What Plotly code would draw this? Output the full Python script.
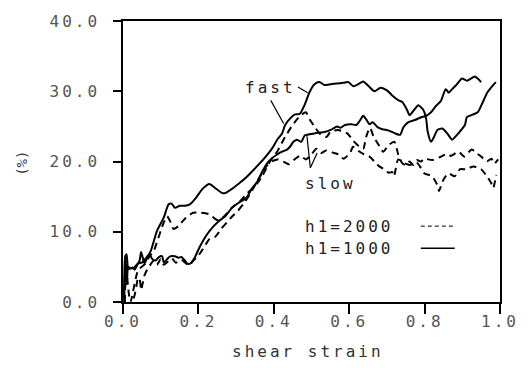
import plotly.graph_objects as go

# fast, h1=1000 (upper solid)
fast_1000_x = [0.003, 0.006, 0.0095, 0.014, 0.02, 0.026, 0.031, 0.038, 0.044, 0.048, 0.057, 0.064, 0.074,
               0.090, 0.108, 0.121, 0.129, 0.138, 0.151, 0.164, 0.177, 0.193, 0.211, 0.229, 0.245, 0.263,
               0.271, 0.289, 0.306, 0.322, 0.348, 0.374, 0.396, 0.409, 0.422, 0.430, 0.443, 0.456, 0.469,
               0.482, 0.495, 0.508, 0.521, 0.534, 0.551, 0.567, 0.585, 0.598, 0.611, 0.624, 0.637, 0.654,
               0.667, 0.683, 0.701, 0.714, 0.731, 0.740, 0.753, 0.760, 0.773, 0.783, 0.796, 0.804, 0.808,
               0.817, 0.825, 0.834, 0.847, 0.860, 0.873, 0.881, 0.894, 0.907, 0.912, 0.924, 0.941, 0.954,
               0.966, 0.979, 0.989]
fast_1000_y = [0.0, 6.5, 6.8, 4.7, 4.8, 4.9, 4.6, 5.3, 5.9, 7.1, 5.5, 6.3, 7.3,
               10.1, 12.0, 13.9, 14.0, 13.4, 13.7, 13.7, 13.9, 14.8, 16.1, 16.8, 16.2, 15.5,
               15.5, 16.1, 16.8, 17.5, 18.9, 20.4, 21.9, 23.1, 24.0, 25.2, 26.1, 26.7, 26.8,
               28.1, 29.9, 31.0, 31.3, 30.9, 31.0, 31.1, 31.2, 31.3, 30.7, 31.0, 31.4, 30.6,
               30.0, 30.5, 30.1, 29.4, 28.7, 28.5, 27.4, 26.6, 27.4, 28.0, 27.4, 26.1, 24.3,
               22.8, 23.5, 24.5, 24.7, 24.0, 23.1, 23.5, 24.3, 25.2, 26.3, 26.6, 27.0, 28.4,
               29.8, 30.7, 31.3]

# slow, h1=1000 (lower solid)
slow_1000_x = [0.003, 0.006, 0.010, 0.014, 0.020, 0.030, 0.040, 0.050, 0.060, 0.070, 0.078, 0.087, 0.095,
               0.104, 0.108, 0.117, 0.125, 0.138, 0.147, 0.155, 0.164, 0.173, 0.181, 0.190, 0.203, 0.220,
               0.237, 0.254, 0.271, 0.289, 0.306, 0.327, 0.340, 0.357, 0.370, 0.383, 0.396, 0.409, 0.422,
               0.435, 0.443, 0.452, 0.461, 0.473, 0.482, 0.508, 0.534, 0.551, 0.568, 0.577, 0.589, 0.606,
               0.619, 0.628, 0.637, 0.645, 0.654, 0.662, 0.675, 0.688, 0.705, 0.722, 0.735, 0.744, 0.757,
               0.774, 0.791, 0.804, 0.817, 0.830, 0.843, 0.856, 0.864, 0.873, 0.886, 0.899, 0.912, 0.920,
               0.933, 0.941, 0.950]
slow_1000_y = [0.5, 5.5, 2.5, 5.0, 4.8, 4.9, 5.5, 5.6, 6.2, 6.8, 6.1, 5.9, 6.4,
               6.5, 5.6, 6.1, 6.5, 6.5, 6.3, 6.4, 5.9, 5.4, 5.6, 6.3, 7.8, 9.4,
               10.6, 11.5, 12.2, 13.4, 14.1, 14.8, 16.0, 17.2, 18.6, 19.8, 20.5, 21.0, 21.4,
               21.7, 22.1, 22.8, 23.1, 22.8, 23.7, 24.0, 24.2, 24.5, 25.0, 24.8, 25.2, 25.3,
               25.2, 25.8, 26.5, 26.0, 25.3, 25.6, 24.9, 24.6, 24.4, 24.0, 23.8, 24.9, 25.6,
               25.9, 26.3, 26.5, 27.0, 27.9, 28.6, 30.3, 29.8, 30.3, 31.0, 31.8, 31.5, 31.7,
               32.1, 31.8, 31.3]

# fast, h1=2000 (upper dashed)
fast_2000_x = [0.005, 0.008, 0.012, 0.016, 0.020, 0.040, 0.060, 0.070, 0.082, 0.091, 0.100, 0.108, 0.117,
               0.125, 0.134, 0.147, 0.155, 0.167, 0.186, 0.206, 0.229, 0.245, 0.255, 0.270, 0.290, 0.310,
               0.330, 0.355, 0.370, 0.390, 0.410, 0.430, 0.450, 0.470, 0.485, 0.495, 0.510, 0.525, 0.540,
               0.550, 0.570, 0.595, 0.610, 0.625, 0.637, 0.645, 0.655, 0.665, 0.680, 0.690, 0.706, 0.720,
               0.730, 0.740, 0.750, 0.760, 0.770, 0.780, 0.790, 0.800, 0.820, 0.840, 0.860, 0.870, 0.890,
               0.905, 0.925, 0.940, 0.950, 0.965, 0.977, 0.985, 0.995]
fast_2000_y = [0.0, 6.0, 3.0, 1.0, 0.0, 4.5, 5.5, 6.5, 7.3, 8.7, 10.1, 11.3, 12.2,
               11.5, 10.4, 10.8, 11.3, 12.0, 12.7, 12.7, 12.5, 11.8, 11.6, 12.3, 13.5, 14.3,
               15.5, 16.8, 18.0, 20.0, 21.5, 23.5, 25.2, 26.5, 27.0, 26.0, 24.8, 23.8, 23.5,
               24.2, 24.5, 24.0, 23.0, 22.2, 21.8, 23.5, 24.8, 23.5, 22.2, 21.4, 22.4, 22.8,
               21.0, 19.8, 19.5, 20.0, 19.5, 20.2, 20.0, 20.4, 20.2, 20.6, 21.1, 20.8, 21.4,
               20.7, 21.7, 21.1, 20.7, 20.0, 20.4, 19.7, 20.3]

# slow, h1=2000 (lower dashed)
slow_2000_x = [0.028, 0.031, 0.035, 0.040, 0.044, 0.048, 0.052, 0.057, 0.065, 0.075, 0.082, 0.090, 0.100,
               0.108, 0.120, 0.130, 0.140, 0.155, 0.165, 0.175, 0.185, 0.200, 0.215, 0.230, 0.245, 0.260,
               0.275, 0.290, 0.305, 0.320, 0.335, 0.350, 0.365, 0.380, 0.395, 0.410, 0.425, 0.440, 0.455,
               0.470, 0.485, 0.500, 0.513, 0.525, 0.540, 0.555, 0.572, 0.585, 0.603, 0.610, 0.625, 0.640,
               0.654, 0.667, 0.680, 0.693, 0.705, 0.714, 0.719, 0.730, 0.745, 0.760, 0.780, 0.800, 0.820,
               0.835, 0.838, 0.850, 0.863, 0.880, 0.894, 0.910, 0.930, 0.950, 0.965, 0.977, 0.982, 0.990]
slow_2000_y = [0.5, 1.0, 2.1, 3.4, 3.3, 1.7, 2.6, 3.8, 4.7, 5.5, 5.9, 5.3, 6.1,
               5.3, 5.8, 6.2, 5.6, 6.0, 5.6, 5.2, 5.8, 6.6, 7.8, 9.0, 9.3, 10.4,
               11.3, 12.2, 13.0, 14.0, 15.2, 16.6, 18.0, 19.3, 20.0, 20.3, 20.0, 19.6, 20.3,
               20.8, 20.3, 21.0, 21.8, 21.2, 21.6, 21.3, 21.0, 20.4, 21.3, 22.1, 21.5, 21.0,
               20.7, 20.0, 19.3, 18.9, 18.4, 18.5, 17.9, 20.3, 19.8, 19.5, 19.8, 18.3, 17.9,
               16.5, 15.8, 17.4, 18.3, 17.9, 18.9, 18.9, 19.3, 18.9, 17.9, 16.9, 16.2, 18.1]

x_tick_vals = [0.0, 0.2, 0.4, 0.6, 0.8, 1.0]
x_tick_text = ["0.0", "0.2", "0.4", "0.6", "0.8", "1.0"]
y_tick_vals = [0, 10, 20, 30, 40]
y_tick_text = ["0.0", "10.0", "20.0", "30.0", "40.0"]

FONT = "DejaVu Sans Mono"
SP = '<span style="letter-spacing:3px">{}</span>'

fig = go.Figure()
fig.add_trace(go.Scatter(x=fast_1000_x, y=fast_1000_y, mode="lines",
                         line=dict(color="black", width=2, shape="spline", smoothing=0.6)))
fig.add_trace(go.Scatter(x=slow_1000_x, y=slow_1000_y, mode="lines",
                         line=dict(color="black", width=2, shape="spline", smoothing=0.6)))
fig.add_trace(go.Scatter(x=fast_2000_x, y=fast_2000_y, mode="lines",
                         line=dict(color="black", width=2, dash="7px,5px", shape="spline", smoothing=0.6)))
fig.add_trace(go.Scatter(x=slow_2000_x, y=slow_2000_y, mode="lines",
                         line=dict(color="black", width=2, dash="7px,5px", shape="spline", smoothing=0.6)))

# leader lines for labels
fig.add_shape(type="line", x0=0.392, y0=28.7, x1=0.426, y1=25.4, line=dict(color="black", width=1.2))
fig.add_shape(type="line", x0=0.464, y0=30.6, x1=0.490, y1=29.8, line=dict(color="black", width=1.2))
fig.add_shape(type="line", x0=0.488, y0=23.6, x1=0.497, y1=19.1, line=dict(color="black", width=1.2))
fig.add_shape(type="line", x0=0.497, y0=19.1, x1=0.515, y1=21.2, line=dict(color="black", width=1.2))
# legend samples
fig.add_shape(type="line", x0=0.79, y0=10.8, x1=0.875, y1=10.8,
              line=dict(color="black", width=1, dash="4px,3px"))
fig.add_shape(type="line", x0=0.79, y0=7.65, x1=0.88, y1=7.65, line=dict(color="black", width=1.5))

afont = dict(family=FONT, size=16, color="#222")
fig.add_annotation(x=0.392, y=30.5, text=SP.format("fast"), showarrow=False, font=afont)
fig.add_annotation(x=0.55, y=16.9, text=SP.format("slow"), showarrow=False, font=afont)
fig.add_annotation(x=0.477, y=10.8, text=SP.format("h1=2000"), showarrow=False, font=afont, xanchor="left")
fig.add_annotation(x=0.477, y=7.65, text=SP.format("h1=1000"), showarrow=False, font=afont, xanchor="left")
fig.add_annotation(x=-0.268, y=0.495, xref="paper", yref="paper", xanchor="center", yanchor="middle",
                   text="(%)", showarrow=False,
                   textangle=-90, font=dict(family=FONT, size=14, color="#333"))
fig.add_annotation(x=0.49, y=-0.177, xref="paper", yref="paper", yanchor="middle",
                   text=SP.format("shear strain"),
                   showarrow=False, font=dict(family=FONT, size=16, color="#333"))

fig.update_xaxes(range=[0, 1], tickvals=x_tick_vals, ticktext=[SP.format(t) for t in x_tick_text],
                 showline=True, linecolor="black", linewidth=1.5, mirror=True,
                 ticks="outside", ticklen=10, tickwidth=1.5, tickcolor="black",
                 showgrid=False, zeroline=False, ticklabelstandoff=-6,
                 tickfont=dict(family=FONT, size=16, color="#555"))
fig.update_yaxes(range=[0, 40], tickvals=y_tick_vals, ticktext=[SP.format(t) for t in y_tick_text],
                 showline=True, linecolor="black", linewidth=1.5, mirror=True,
                 ticks="outside", ticklen=8, tickwidth=1.5, tickcolor="black",
                 showgrid=False, zeroline=False, ticklabelstandoff=10,
                 tickfont=dict(family=FONT, size=16, color="#555"))
fig.update_layout(width=531, height=368, margin=dict(l=123, r=20, t=18, b=66),
                  plot_bgcolor="white", paper_bgcolor="white", showlegend=False)
fig.write_html("out.html")
